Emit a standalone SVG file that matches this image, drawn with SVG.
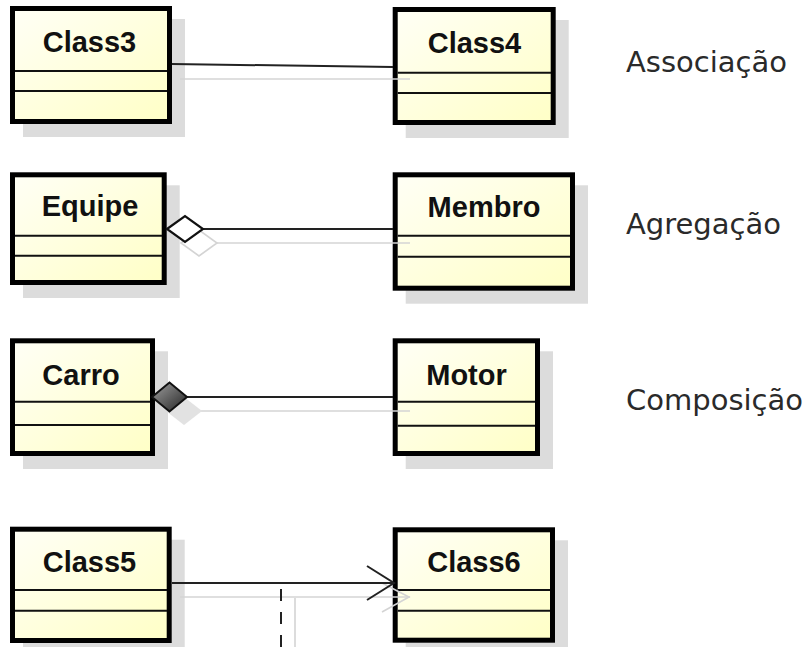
<svg xmlns="http://www.w3.org/2000/svg" width="809" height="647" viewBox="0 0 809 647">
  <defs>
    <linearGradient id="classFill" x1="0" y1="0" x2="1" y2="1">
      <stop offset="0" stop-color="#fffff6"/>
      <stop offset="1" stop-color="#ffffc6"/>
    </linearGradient>
    <linearGradient id="compFill" x1="0" y1="0" x2="1" y2="1">
      <stop offset="0" stop-color="#a0a0a0"/>
      <stop offset="1" stop-color="#222222"/>
    </linearGradient>
    <style>
      .shadow { fill: #dcdcdc; stroke: none; }
      .box { fill: url(#classFill); stroke: #000; stroke-width: 5; }
      .div { stroke: #111; stroke-width: 2; }
      .name { font-family: "Liberation Sans", Arial, sans-serif; font-weight: bold; font-size: 29px; fill: #111; text-anchor: middle; }
      .label { font-family: "DejaVu Sans", "Liberation Sans", sans-serif; font-size: 29px; fill: #2a2a2a; }
      .link { stroke: #222; stroke-width: 2; fill: none; }
      .ghost { stroke: #d4d4d4; stroke-width: 1.6; fill: none; }
    </style>
  </defs>
  <rect width="809" height="647" fill="#fff"/>

  <!-- class nodes: drop shadow, body, name, two compartments -->
  <g id="class3">
    <rect class="shadow" x="23" y="19" width="162" height="118"/>
    <rect class="box" x="12.5" y="8.5" width="157" height="113"/>
    <line class="div" x1="15" y1="71" x2="167" y2="71"/>
    <line class="div" x1="15" y1="91" x2="167" y2="91"/>
    <text class="name" x="89.5" y="52">Class3</text>
  </g>
  <g id="class4">
    <rect class="shadow" x="405.7" y="20" width="163" height="118"/>
    <rect class="box" x="395.2" y="9.5" width="158" height="113"/>
    <line class="div" x1="397.7" y1="72.7" x2="551" y2="72.7"/>
    <line class="div" x1="397.7" y1="93" x2="551" y2="93"/>
    <text class="name" x="474.5" y="53">Class4</text>
  </g>
  <g id="equipe">
    <rect class="shadow" x="23" y="185.3" width="156.7" height="112.7"/>
    <rect class="box" x="12.5" y="174.8" width="151.7" height="107.7"/>
    <line class="div" x1="15" y1="235.7" x2="162" y2="235.7"/>
    <line class="div" x1="15" y1="255.7" x2="162" y2="255.7"/>
    <text class="name" x="90" y="215.5">Equipe</text>
  </g>
  <g id="membro">
    <rect class="shadow" x="405.7" y="185.3" width="182.3" height="118.4"/>
    <rect class="box" x="395.2" y="174.8" width="177.3" height="113.4"/>
    <line class="div" x1="397.7" y1="235.7" x2="570" y2="235.7"/>
    <line class="div" x1="397.7" y1="256.7" x2="570" y2="256.7"/>
    <text class="name" x="484" y="216.5">Membro</text>
  </g>
  <g id="carro">
    <rect class="shadow" x="23" y="351.3" width="145" height="117.7"/>
    <rect class="box" x="12.5" y="340.8" width="140" height="112.7"/>
    <line class="div" x1="15" y1="401.7" x2="150" y2="401.7"/>
    <line class="div" x1="15" y1="425" x2="150" y2="425"/>
    <text class="name" x="81" y="385">Carro</text>
  </g>
  <g id="motor">
    <rect class="shadow" x="405.7" y="351.3" width="147.3" height="117.7"/>
    <rect class="box" x="395.2" y="340.8" width="142.3" height="112.7"/>
    <line class="div" x1="397.7" y1="401.7" x2="535" y2="401.7"/>
    <line class="div" x1="397.7" y1="425.7" x2="535" y2="425.7"/>
    <text class="name" x="466.5" y="385">Motor</text>
  </g>
  <g id="class5">
    <rect class="shadow" x="23" y="539.7" width="161.7" height="116.3"/>
    <rect class="box" x="12.5" y="529.2" width="156.7" height="111.3"/>
    <line class="div" x1="15" y1="590" x2="167" y2="590"/>
    <line class="div" x1="15" y1="610.7" x2="167" y2="610.7"/>
    <text class="name" x="89.5" y="571.7">Class5</text>
  </g>
  <g id="class6">
    <rect class="shadow" x="405.7" y="540.3" width="162.3" height="115.4"/>
    <rect class="box" x="395.2" y="529.8" width="157.3" height="110.4"/>
    <line class="div" x1="397.7" y1="590" x2="550" y2="590"/>
    <line class="div" x1="397.7" y1="610.7" x2="550" y2="610.7"/>
    <text class="name" x="474" y="571.7">Class6</text>
  </g>

  <!-- connectors with their soft offset shadows -->
  <g id="connectors">
    <!-- association -->
    <line class="ghost" x1="180" y1="79" x2="410" y2="79"/>
    <line class="link" x1="172" y1="64" x2="393" y2="67"/>

    <!-- aggregation (hollow diamond) -->
    <line class="ghost" x1="216" y1="243" x2="410" y2="243"/>
    <polygon class="ghost" fill="#fff" points="181,243 199,230 217,243 199,256"/>
    <line class="link" x1="203" y1="229" x2="393" y2="229"/>
    <polygon points="167,229 185,216 203,229 185,242" fill="#fff" stroke="#111" stroke-width="2.2"/>

    <!-- composition (filled diamond) -->
    <line class="ghost" x1="200" y1="411" x2="410" y2="411"/>
    <polygon points="166,411 184,397 202,411 184,425" fill="#e2e2e2" stroke="none"/>
    <line class="link" x1="187" y1="397" x2="393" y2="397"/>
    <polygon points="152,397 169.5,382.5 187,397 169.5,411.5" fill="url(#compFill)" stroke="#111" stroke-width="2"/>

    <!-- directed association (open arrow) -->
    <line class="ghost" x1="180" y1="597" x2="410" y2="597"/>
    <polyline class="ghost" points="382,583 409,597 382,612"/>
    <line class="ghost" x1="295" y1="598" x2="295" y2="647"/>
    <line class="link" x1="172" y1="583" x2="393" y2="583"/>
    <polyline class="link" points="367,566 394,583 367,600"/>
    <line class="link" x1="281" y1="589" x2="281" y2="647" stroke-dasharray="12 11"/>
  </g>

  <!-- relationship captions -->
  <text class="label" x="626" y="71.5">Associação</text>
  <text class="label" x="626" y="234">Agregação</text>
  <text class="label" x="626" y="409.5">Composição</text>
</svg>
